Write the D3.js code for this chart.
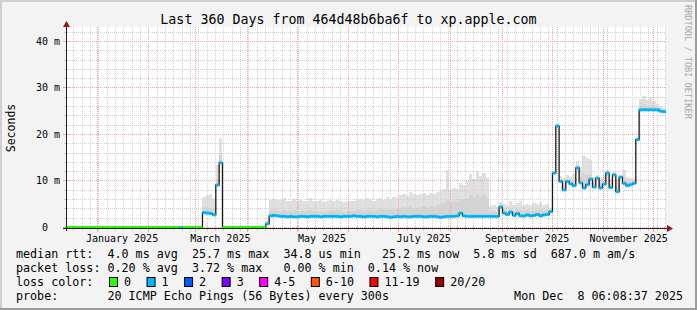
<!DOCTYPE html>
<html><head><meta charset="utf-8">
<script src="https://cdn.jsdelivr.net/npm/d3@7"></script>
<style>
html,body{margin:0;padding:0;background:#f3f3f3;}
svg{display:block;}
text{font-family:"DejaVu Sans Mono",monospace;white-space:pre;}
</style></head><body>
<svg id="c" width="697" height="310"></svg>
<script>
const title = "Last 360 Days from 464d48b6ba6f to xp.apple.com";
const yAxisTitle = "Seconds";
const watermark = "RRDTOOL / TOBI OETIKER";
const startTime = "2024-12-13T06:08:37Z";
const endTime = "2025-12-08T06:08:37Z";
const stepDays = 2;

// median rtt (ms), one value per 2-day step
const median = [
 0,0,0,0,0,0,0,0,0,0,0,0,0,0,0,0,0,0,0,0,
 0,0,0,0,0,0,0,0,0,0,0,0,0,0,0,0,0,0,0,0,
 0,3.2,3.1,3.0,2.7,9.1,13.9,0,0,0,0,0,0,0,0,0,0,0,0,0,
 0.8,2.5,2.6,2.5,2.4,2.4,2.3,2.4,2.3,2.3,2.4,2.4,2.3,2.4,2.4,2.4,2.3,2.4,2.4,2.4,
 2.4,2.4,2.3,2.4,2.4,2.4,2.5,2.4,2.4,2.3,2.4,2.4,2.4,2.3,2.4,2.4,2.3,2.2,2.3,2.4,
 2.3,2.4,2.3,2.3,2.4,2.4,2.4,2.3,2.3,2.4,2.4,2.3,2.2,2.3,2.4,2.4,2.4,2.5,3.1,2.5,
 2.4,2.4,2.4,2.4,2.4,2.4,2.4,2.4,2.4,2.4,4.4,3.1,2.8,3.3,2.6,3.0,2.5,2.5,2.7,2.5,
 2.6,2.8,2.5,2.7,2.8,3.4,11.7,21.8,9.9,8.1,9.9,9.4,9.0,12.8,9.6,8.5,9.2,10.4,8.7,10.6,
 8.5,9.3,11.7,8.6,11.3,7.7,10.8,9.5,9.0,9.2,9.5,18.9,25.3,25.3,25.3,25.3,25.3,25.3,25.0,24.9
];
// outer smoke upper bound (ms)
const smokeTop = [
 0,0,0,0,0,0,0,0,0,0,0,0,0,0,0,0,0,0,0,0,
 0,0,0,0,0,0,0,0,0,0,0,0,0,0,0,0,0,0,0,0,
 0,6.6,6.9,7.1,6.4,13.5,19.3,0,0,0,0,0,0,0,0,0,0,0,0,0,
 1.5,6.0,6.1,5.9,6.0,6.3,5.8,5.7,6.2,5.6,5.9,5.7,5.6,6.3,5.8,5.7,5.9,5.5,5.8,6.0,
 5.7,5.9,5.6,5.5,5.8,5.6,5.7,6.0,6.2,5.9,6.3,6.0,5.8,6.2,6.4,6.0,6.5,6.2,6.6,6.3,
 6.9,7.2,6.8,7.6,7.1,7.0,7.3,7.4,6.9,7.4,7.2,7.6,7.8,8.3,12.4,8.1,8.5,8.2,9.6,9.2,
 10.1,11.6,10.4,12.1,11.0,11.8,10.6,4.6,4.8,4.5,5.4,5.0,4.7,5.6,4.9,5.2,5.8,4.8,5.1,4.9,
 5.3,5.0,5.4,4.8,5.0,4.2,12.2,22.5,11.0,10.6,11.2,10.8,11.4,14.2,13.0,15.3,15.0,14.6,10.9,11.3,
 10.7,11.0,12.4,10.5,12.0,10.4,11.2,12.4,10.8,10.6,10.4,19.5,27.6,28.2,27.5,28.0,27.2,26.5,26.2,25.8
];
// inner (darker) smoke upper bound (ms)
const smokeMid = [
 0,0,0,0,0,0,0,0,0,0,0,0,0,0,0,0,0,0,0,0,
 0,0,0,0,0,0,0,0,0,0,0,0,0,0,0,0,0,0,0,0,
 0,4.5,4.4,4.3,4.0,10.5,15.5,0,0,0,0,0,0,0,0,0,0,0,0,0,
 1.0,3.8,3.9,3.7,3.6,3.8,3.5,3.6,3.7,3.5,3.6,3.6,3.5,3.8,3.6,3.5,3.6,3.4,3.6,3.7,
 3.6,3.7,3.5,3.4,3.6,3.5,3.6,3.7,3.8,3.6,3.8,3.7,3.6,3.8,3.9,3.7,3.9,3.8,4.0,3.9,
 4.2,4.4,4.1,4.6,4.3,4.2,4.5,4.6,4.3,4.6,4.5,4.8,5.0,5.3,6.0,5.2,5.6,5.4,6.2,6.0,
 6.4,7.0,6.5,7.2,6.6,6.9,6.3,3.4,3.5,3.3,4.8,3.9,3.6,4.1,3.6,3.9,3.8,3.5,3.7,3.5,
 3.8,3.7,3.9,3.6,3.7,3.8,12.0,22.0,10.5,9.2,10.5,10.0,9.8,13.3,10.8,11.5,11.2,11.6,9.6,11.0,
 9.4,10.0,12.0,9.4,11.6,8.8,11.0,10.6,9.8,9.8,9.9,19.2,26.2,26.5,26.2,26.4,26.0,25.8,25.6,25.3
];
// loss colour bin per step (index into lossColors)
const lossBin = [
 0,0,0,0,0,0,0,0,0,0,0,0,0,0,0,0,0,0,0,0,
 0,0,0,0,0,0,0,0,0,0,0,0,0,0,1,0,0,0,0,0,
 0,1,1,1,1,1,1,0,0,0,0,0,0,0,0,0,0,0,0,0,
 1,1,1,1,1,1,1,1,1,1,1,1,1,1,1,1,1,1,1,1,
 1,1,1,1,1,1,1,1,1,1,1,1,1,1,1,1,1,1,1,1,
 1,1,1,1,1,1,1,1,1,1,1,1,1,1,1,1,1,1,1,1,
 1,1,1,1,1,1,1,1,1,1,1,1,1,1,1,1,1,1,1,1,
 1,1,1,1,1,1,1,1,1,1,1,1,1,1,1,1,1,1,1,1,
 1,1,1,1,1,1,1,1,1,1,1,1,1,1,1,1,1,1,1,1
];
const yTicks = [0,10,20,30,40];
const yTickLabels = ["0  ","10 m","20 m","30 m","40 m"];
const lossLabels = ["0","1","2","3","4-5","6-10","11-19","20/20"];
const lossColors = ["#26ff00","#00b8ff","#0059ff","#7e00ff","#ff00ff","#ff5500","#ff0000","#a10000"];
const statLines = [
 "median rtt:  4.0 ms avg  25.7 ms max  34.8 us min   25.2 ms now  5.8 ms sd  687.0 m am/s",
 "packet loss: 0.20 % avg  3.72 % max   0.00 % min  0.14 % now"
];
const lossTitle = "loss color:";
const probeLine = "probe:       20 ICMP Echo Pings (56 Bytes) every 300s";
const dateLine = "Mon Dec  8 06:08:37 2025";

const W = 697, H = 310;
const svg = d3.select("#c");
const t0 = new Date(startTime), t1 = new Date(endTime);
const x = d3.scaleUtc().domain([t0, t1]).range([65.8, 665.8]);
const y = d3.scaleLinear().domain([0, 43]).range([227.5, 27.5]);
const px = v => Math.floor(v) + 0.5;

// frame
svg.append("rect").attr("width", W).attr("height", H).attr("fill", "#f3f3f3");
svg.append("rect").attr("x", 0).attr("y", 0).attr("width", W).attr("height", 2).attr("fill", "#cfcfcf");
svg.append("rect").attr("x", 0).attr("y", 0).attr("width", 2).attr("height", H).attr("fill", "#cfcfcf");
svg.append("rect").attr("x", W - 2).attr("y", 0).attr("width", 2).attr("height", H).attr("fill", "#9c9c9c");
svg.append("rect").attr("x", 0).attr("y", H - 2).attr("width", W).attr("height", 2).attr("fill", "#9c9c9c");

// canvas
svg.append("rect").attr("x", 66).attr("y", 27).attr("width", 600).attr("height", 201).attr("fill", "#ffffff");

// data points
const pts = median.map((m, i) => ({
  t0: d3.utcDay.offset(t0, i * stepDays),
  t1: d3.utcDay.offset(t0, (i + 1) * stepDays),
  m, top: smokeTop[i], mid: smokeMid[i], loss: lossBin[i]
}));

// smoke
const sm = svg.append("g").attr("shape-rendering", "crispEdges");
sm.selectAll("rect.l").data(pts.filter(d => d.top > d.m && d.m > 0)).join("rect")
  .attr("x", d => x(d.t0)).attr("width", d => x(d.t1) - x(d.t0))
  .attr("y", d => y(d.top)).attr("height", d => y(d.m) - y(d.top) + 1)
  .attr("fill", "#e0e0e0");
sm.selectAll("rect.d").data(pts.filter(d => d.mid > d.m && d.m > 0)).join("rect")
  .attr("x", d => x(d.t0)).attr("width", d => x(d.t1) - x(d.t0))
  .attr("y", d => y(d.mid)).attr("height", d => y(d.m) - y(d.mid))
  .attr("fill", "#d4d4d4");

// grid
const grid = svg.append("g");
const minorDays = d3.utcDay.range(d3.utcDay.floor(t0), t1, 5).filter(d => d > t0);
const months = d3.utcMonth.range(t0, t1);
grid.selectAll("line.vm").data(minorDays).join("line")
  .attr("x1", d => px(x(d))).attr("x2", d => px(x(d))).attr("y1", 27).attr("y2", 228)
  .attr("stroke", "#d0d0d0").attr("stroke-dasharray", "1,1");
const hMinor = d3.range(2, 43, 2).filter(v => v % 10 !== 0);
grid.selectAll("line.hm").data(hMinor).join("line")
  .attr("x1", 66).attr("x2", 666).attr("y1", d => px(y(d))).attr("y2", d => px(y(d)))
  .attr("stroke", "#d0d0d0").attr("stroke-dasharray", "1,1");
grid.selectAll("line.vM").data(months).join("line")
  .attr("x1", d => px(x(d))).attr("x2", d => px(x(d))).attr("y1", 27).attr("y2", 228)
  .attr("stroke", "#f2a4a4").attr("stroke-dasharray", "1,1");
grid.selectAll("line.hM").data(yTicks).join("line")
  .attr("x1", 66).attr("x2", 666).attr("y1", d => px(y(d))).attr("y2", d => px(y(d)))
  .attr("stroke", "#f2a4a4").attr("stroke-dasharray", "1,1");

// axis ticks
const tk = svg.append("g");
tk.selectAll("line.a").data(minorDays).join("line")
  .attr("x1", d => px(x(d))).attr("x2", d => px(x(d))).attr("y1", 226).attr("y2", 231)
  .attr("stroke", "#d0d0d0");
tk.selectAll("line.b").data(months).join("line")
  .attr("x1", d => px(x(d))).attr("x2", d => px(x(d))).attr("y1", 225).attr("y2", 232)
  .attr("stroke", "#f2a4a4");
tk.selectAll("line.c").data(hMinor).join("line")
  .attr("x1", 64).attr("x2", 69).attr("y1", d => px(y(d))).attr("y2", d => px(y(d)))
  .attr("stroke", "#d0d0d0");
tk.selectAll("line.d").data(yTicks).join("line")
  .attr("x1", 63).attr("x2", 70).attr("y1", d => px(y(d))).attr("y2", d => px(y(d)))
  .attr("stroke", "#f2a4a4");

// median black step line
const stepPts = pts.map(d => [x(d.t0), y(d.m)]);
stepPts.push([x(t1), y(median[median.length - 1])]);
svg.append("path").attr("d", d3.line().curve(d3.curveStepAfter)(stepPts))
  .attr("fill", "none").attr("stroke", "#1a1a1a").attr("stroke-width", 1.3);

// loss coloured median segments
svg.append("g").selectAll("line").data(pts).join("line")
  .attr("x1", d => x(d.t0)).attr("x2", d => x(d.t1))
  .attr("y1", d => y(d.m)).attr("y2", d => y(d.m))
  .attr("stroke", d => lossColors[d.loss]).attr("stroke-width", 3);

// axes
svg.append("line").attr("x1", 66.5).attr("x2", 66.5).attr("y1", 231).attr("y2", 25).attr("stroke", "#222");
svg.append("line").attr("x1", 63).attr("x2", 668).attr("y1", 228.5).attr("y2", 228.5).attr("stroke", "#222");
svg.append("path").attr("d", "M66.5,21 L63,27 L70,27 Z").attr("fill", "#9a1515");
svg.append("path").attr("d", "M673,228.5 L667,225 L667,232 Z").attr("fill", "#9a1515");

// y tick labels
svg.append("g").selectAll("text").data(yTicks).join("text")
  .attr("x", 60).attr("y", d => y(d) + 3.5).attr("text-anchor", "end")
  .attr("font-size", 10).attr("fill", "#000").text((d, i) => yTickLabels[i]);

// x labels
const labelMonths = d3.utcMonth.every(2).range(t0, t1);
svg.append("g").selectAll("text").data(labelMonths).join("text")
  .attr("x", d => x(d3.utcDay.offset(d, 15))).attr("y", 242).attr("text-anchor", "middle")
  .attr("font-size", 10).attr("fill", "#000").text(d3.utcFormat("%B %Y"));

// title
svg.append("text").attr("x", 348.5).attr("y", 23.5).attr("text-anchor", "middle")
  .attr("font-size", 13.3).attr("fill", "#000").text(title);
// y axis title
svg.append("text").attr("transform", "translate(15,128) rotate(-90)").attr("text-anchor", "middle")
  .attr("font-size", 11.5).attr("fill", "#000").text(yAxisTitle);
// watermark
svg.append("text").attr("transform", "translate(685,5) rotate(90)")
  .attr("font-size", 8.6).attr("fill", "#a8a8a8").text(watermark);

// legend
const fs = 11.7;
statLines.forEach((s, i) => {
  svg.append("text").attr("x", 16).attr("y", 258 + i * 14).attr("font-size", fs).attr("fill", "#000").text(s);
});
svg.append("text").attr("x", 16).attr("y", 286).attr("font-size", fs).attr("fill", "#000").text(lossTitle);
let bx = 109;
lossLabels.forEach((lab, i) => {
  svg.append("rect").attr("x", bx + 0.5).attr("y", 277.5).attr("width", 8).attr("height", 9)
    .attr("fill", lossColors[i]).attr("stroke", "#000").attr("stroke-width", 1);
  const t = svg.append("text").attr("x", bx + 15).attr("y", 286).attr("font-size", fs).attr("fill", "#000").text(lab);
  bx = bx + 15 + t.node().getComputedTextLength() + 15.5;
});
svg.append("text").attr("x", 16).attr("y", 300).attr("font-size", fs).attr("fill", "#000").text(probeLine);
svg.append("text").attr("x", 683).attr("y", 300).attr("text-anchor", "end").attr("font-size", fs).attr("fill", "#000").text(dateLine);
</script>
</body></html>
